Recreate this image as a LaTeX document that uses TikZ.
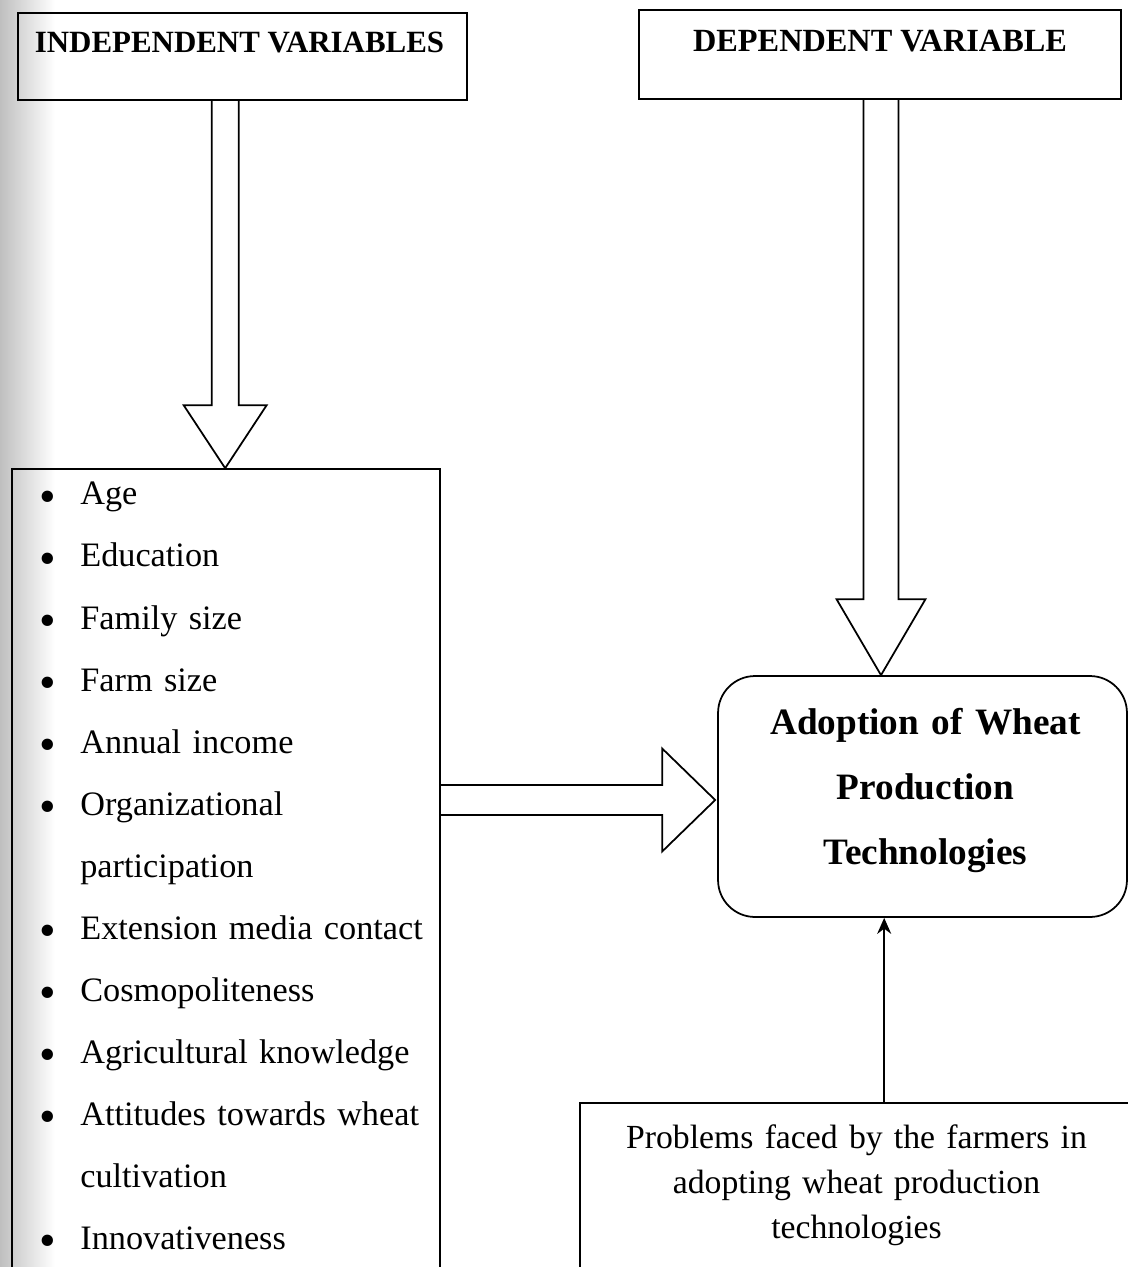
\documentclass[tikz,border=0pt]{standalone}
\usepackage{fontspec}
\setmainfont{Liberation Serif}
\usetikzlibrary{arrows.meta,positioning,calc}
\newcommand \blockdown[5]
{
\draw[block] ($(#2 |- #1)+(-#3,0)$) -- ($(#2)+(-#3,-#5)$) -- ($(#2)+(-#4,-#5)$) -- (#2)
  -- ($(#2)+(#4,-#5)$) -- ($(#2)+(#3,-#5)$) -- ($(#2 |- #1)+(#3,0)$);
}
\newcommand \blockright[5]
{
\draw[block] ($(#2 -| #1)+(0,-#3)$) -- ($(#2)+(-#5,-#3)$) -- ($(#2)+(-#5,-#4)$) -- (#2)
  -- ($(#2)+(-#5,#4)$) -- ($(#2)+(-#5,#3)$) -- ($(#2 -| #1)+(0,#3)$);
}
\newcommand \itm{\makebox[0.84cm][l]{\hspace{0.5pt}\raisebox{-4pt}{\fontsize{27}{27}\selectfont\textbullet}}}
\begin{document}
\begin{tikzpicture}[x=0.02cm, y=-0.02cm, line join=miter,
  box/.style={draw, line width=1pt, inner sep=0pt},
  block/.style={draw, line width=1pt},
  head/.style={font=\fontsize{17.6}{21}\selectfont\bfseries, inner sep=0pt, anchor=base},
  body/.style={font=\fontsize{19.5}{35.3}\selectfont, inner sep=0pt}]
\useasboundingbox (0,0) rectangle (1128,1267);
\clip (0,0) rectangle (1128,1267);
\shade[left color=gray!50, right color=white] (0,0) rectangle (55,1267);
% headings
\node[box, minimum width=8.98cm, minimum height=1.74cm] (indep) at (242.5,56.5) {};
\node[head] (indeplabel) at (239.5,53) {INDEPENDENT VARIABLES};
\node[box, minimum width=9.64cm, minimum height=1.78cm] (dep) at (880,54.5) {};
\node[head, font=\fontsize{18.4}{21}\selectfont\bfseries] (deplabel) at (880,52) {DEPENDENT VARIABLE};
% list of independent variables
\node[box, minimum width=8.56cm, minimum height=16.62cm] (factors) at (226,884.5) {};
\node[body, anchor=north west, text width=7.9cm, align=left] (items) at (38,482)
{\itm Age\\
\itm Education\\
\itm Family size\\
\itm Farm size\\
\itm Annual income\\
\itm Organizational\\
\hspace*{0.84cm}participation\\
\itm Extension media contact\\
\itm Cosmopoliteness\\
\itm Agricultural knowledge\\
\itm Attitudes towards wheat\\
\hspace*{0.84cm}cultivation\\
\itm Innovativeness};
% dependent variable and problems
\node[box, rounded corners=0.74cm, minimum width=8.18cm, minimum height=4.82cm] (adopt) at (922.5,796.5) {};
\node[inner sep=0pt, anchor=north, text width=8cm, align=center,
  font=\fontsize{21.2}{37}\selectfont\bfseries] (adopttext) at (925.5,707.5)
  {Adoption of Wheat\\Production\\Technologies};
\node[box, minimum width=11.6cm, minimum height=4.34cm] (problems) at (870,1211.5) {};
\node[inner sep=0pt, anchor=north, text width=10.5cm, align=center,
  font=\fontsize{19.2}{25.8}\selectfont] (problemstext) at (856.5,1124)
  {Problems faced by the farmers in\\adopting wheat production\\technologies};
% arrows
\coordinate (tip1) at ($(factors.north west)+(214,0)$);
\coordinate (tip2) at ($(adopt.north)+(-41.5,0)$);
\coordinate (tip3) at ($(adopt.west)+(-2,3.5)$);
\coordinate (up) at ($(problems.north west)+(305,0)$);
\blockdown{indep.south}{tip1}{13.5}{41.5}{63}
\blockdown{dep.south}{tip2}{17.5}{44.5}{76}
\blockright{factors.east}{tip3}{15}{51.5}{53}
\draw[line width=1pt, -{Stealth[length=0.32cm, width=0.28cm]}] (up) -- (up |- adopt.south);
\end{tikzpicture}
\end{document}
